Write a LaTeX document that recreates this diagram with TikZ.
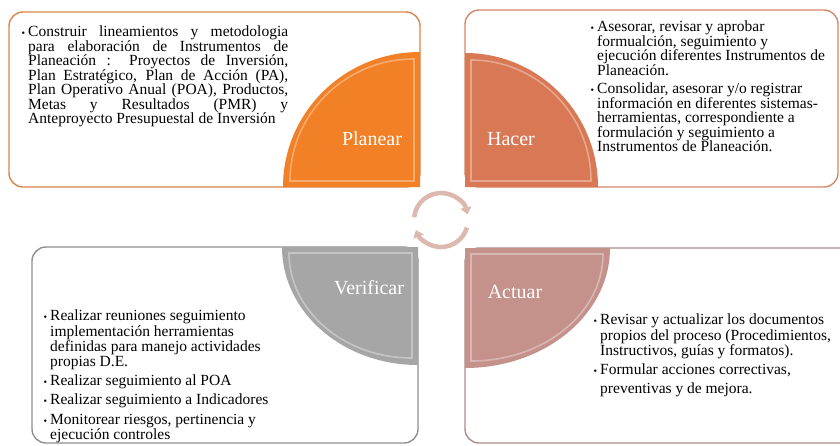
\documentclass[tikz,border=0pt]{standalone}
\usepackage{fontspec}
\setmainfont{Liberation Serif}
\usetikzlibrary{arrows.meta}

\definecolor{planearcol}{HTML}{F28026}
\definecolor{planearline}{HTML}{D9854C}
\definecolor{hacercol}{HTML}{D87855}
\definecolor{hacerline}{HTML}{D4876A}
\definecolor{verifcol}{HTML}{A6A6A6}
\definecolor{verifline}{HTML}{8F8F8F}
\definecolor{actuarcol}{HTML}{C4918B}
\definecolor{actuarline}{HTML}{AE8C88}
\definecolor{cyclecol}{HTML}{DDB8AE}

\tikzset{
  itembox/.style={line width=1.4pt, rounded corners=14pt, fill=white},
  pietext/.style={text=white, inner sep=0pt, font=\fontsize{20}{24}\selectfont},
  bodytext/.style={anchor=north west, inner sep=0pt, font=\fontsize{15.5}{14.5}\selectfont},
  bevel/.style={draw=white, draw opacity=.35, line width=1.6pt},
  cyclearrow/.style={line width=4.5pt, draw=cyclecol, -{Triangle[width=11pt,length=7pt]}}
}
\newcommand{\bul}{\llap{{\fontsize{10}{10}\selectfont\textbullet}\hspace{3pt}}}
\hbadness=10000

\begin{document}
\begin{tikzpicture}[x=1pt,y=-1pt]
  \useasboundingbox (0,0) rectangle (840,445);
  % boxes
  \draw[itembox, draw=planearline] (9,12) rectangle (420,187);
  \draw[itembox, draw=hacerline] (465,10) rectangle (838,187);
  \draw[itembox, draw=verifline] (32,247) rectangle (418,443);
  \draw[itembox, draw=actuarline] (465,248) rectangle (856,443);

  % quarter pies
  \fill[planearcol] (420,187) -- (283,187) arc[start angle=180, end angle=270, x radius=137, y radius=135] -- cycle;
  \draw[bevel] (414,181) -- (290,181) arc[start angle=180, end angle=270, x radius=124, y radius=122] -- cycle;
  \fill[hacercol] (465,187) -- (598,187) arc[start angle=0, end angle=-90, x radius=133, y radius=134] -- cycle;
  \draw[bevel] (471,181) -- (591,181) arc[start angle=0, end angle=-90, x radius=120, y radius=121] -- cycle;
  \fill[verifcol] (418,247) -- (282,247) arc[start angle=180, end angle=90, x radius=136, y radius=118] -- cycle;
  \draw[bevel] (412,253) -- (289,253) arc[start angle=180, end angle=90, x radius=123, y radius=105] -- cycle;
  \fill[actuarcol] (465,248) -- (610,248) arc[start angle=0, end angle=90, x radius=145, y radius=120] -- cycle;
  \draw[bevel] (471,254) -- (603,254) arc[start angle=0, end angle=90, x radius=132, y radius=107] -- cycle;

  \node[pietext] (planear) at (372,139) {Planear};
  \node[pietext] (hacer) at (511,139) {Hacer};
  \node[pietext] (verificar) at (369,288) {Verificar};
  \node[pietext] (actuar) at (515,292) {Actuar};

  % texts
  \node[bodytext, text width=260pt, align=justify] (planeartxt) at (28,26)
    {\bul Construir lineamientos y metodologia\linebreak
     para elaboración de Instrumentos de\linebreak
     Planeación : Proyectos de Inversión,\linebreak
     Plan Estratégico, Plan de Acción (PA),\linebreak
     Plan Operativo Anual (POA), Productos,\linebreak
     Metas y Resultados (PMR) y\linebreak
     Anteproyecto Presupuestal de Inversión};
  \node[bodytext, align=left] (hacertxt) at (597,21)
    {\bul Asesorar, revisar y aprobar\\
     formualción, seguimiento y\\
     ejecución diferentes Instrumentos de\\
     Planeación.\\[4pt]
     \bul Consolidar, asesorar y/o registrar\\
     información en diferentes sistemas-\\
     herramientas, correspondiente a\\
     formulación y seguimiento a\\
     Instrumentos de Planeación.};
  \node[bodytext, align=left, font=\fontsize{15.5}{15.2}\selectfont] (veriftxt) at (50,310)
    {\bul Realizar reuniones seguimiento\\
     implementación herramientas\\
     definidas para manejo actividades\\
     propias D.E.\\[4pt]
     \bul Realizar seguimiento al POA\\[4pt]
     \bul Realizar seguimiento a Indicadores\\[4pt]
     \bul Monitorear riesgos, pertinencia y\\
     ejecución controles};
  \node[bodytext, align=left, font=\fontsize{15.5}{15.5}\selectfont] (actuartxt) at (600,314)
    {\bul Revisar y actualizar los documentos\\
     propios del proceso (Procedimientos,\\
     Instructivos, guías y formatos).\\[3pt]
     \bul Formular acciones correctivas,\\[4pt]
     preventivas y de mejora.};

  % cycle arrows
  \coordinate (cyc) at (441,220);
  \draw[cyclearrow] (cyc) ++(186:27) arc[start angle=186, end angle=348, radius=27];
  \draw[cyclearrow] (cyc) ++(16:27) arc[start angle=16, end angle=158, radius=27];
\end{tikzpicture}
\end{document}
